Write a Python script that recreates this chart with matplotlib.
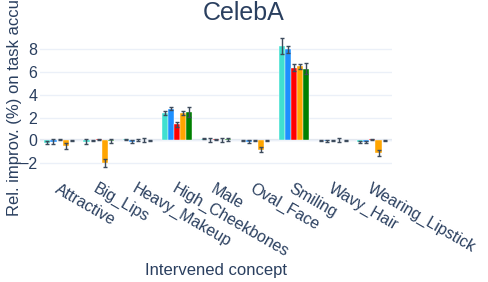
import numpy as np
import matplotlib
matplotlib.use("Agg")
import matplotlib.pyplot as plt

concepts = ["Attractive", "Big_Lips", "Heavy_Makeup", "High_Cheekbones", "Male",
            "Oval_Face", "Smiling", "Wavy_Hair", "Wearing_Lipstick"]

# one list per method (bar colour), values in % relative improvement
turquoise_vals = [-0.2, -0.1, 0.1, 2.4, 0.15, 0.0, 8.3, 0.0, -0.15]
blue_vals = [-0.1, 0.0, -0.1, 2.8, 0.05, -0.1, 8.0, -0.05, -0.15]
red_vals = [0.05, 0.1, 0.05, 1.4, 0.1, 0.0, 6.4, 0.0, 0.1]
orange_vals = [-0.5, -2.0, 0.05, 2.4, 0.05, -0.8, 6.5, 0.05, -1.1]
green_vals = [0.0, -0.05, 0.0, 2.5, 0.1, 0.0, 6.3, 0.0, 0.0]

turquoise_err = [0.15, 0.2, 0.05, 0.2, 0.05, 0.05, 0.7, 0.05, 0.1]
blue_err = [0.2, 0.05, 0.1, 0.1, 0.15, 0.1, 0.3, 0.05, 0.1]
red_err = [0.05, 0.05, 0.1, 0.25, 0.05, 0.05, 0.3, 0.05, 0.05]
orange_err = [0.25, 0.35, 0.15, 0.2, 0.2, 0.25, 0.2, 0.15, 0.25]
green_err = [0.05, 0.15, 0.05, 0.45, 0.15, 0.05, 0.5, 0.05, 0.05]

series = [
    (turquoise_vals, turquoise_err, "#40E0D0"),
    (blue_vals, blue_err, "#1E90FF"),
    (red_vals, red_err, "#FF0000"),
    (orange_vals, orange_err, "#FFA500"),
    (green_vals, green_err, "#008000"),
]

plt.rcParams['font.family'] = ['Liberation Sans', 'DejaVu Sans']
text_col = "#2a3f5f"
grid_col = "#ebf0f8"

fig = plt.figure(figsize=(4.88, 2.82), dpi=100)
ax = fig.add_axes([40 / 488, 1 - 170 / 282, 352 / 488, 140 / 282])

x = np.arange(len(concepts))
group = 0.78
w = group / len(series)
for i, (vals, err, col) in enumerate(series):
    pos = x - group / 2 + w * (i + 0.5)
    ax.bar(pos, vals, width=w, color=col, edgecolor="white", linewidth=0.3,
           yerr=err, error_kw=dict(ecolor="#3d4b5c", elinewidth=1.0, capsize=1.6,
                                   capthick=1.0), zorder=3)

ax.set_xlim(-0.5, len(concepts) - 0.5)
ax.set_ylim(-2.6, 9.7)
ax.set_yticks([-2, 0, 2, 4, 6, 8])
ax.set_yticklabels(["\u22122", "0", "2", "4", "6", "8"])
ax.yaxis.grid(True, color=grid_col, lw=1, zorder=0)
ax.axhline(0, color="#e2e7ef", lw=1.6, zorder=1)
for s in ax.spines.values():
    s.set_visible(False)
ax.tick_params(length=0, colors=text_col, labelsize=11.5)
ax.tick_params(axis="y", pad=2)
ax.set_xticks(x)
ax.set_xticklabels(concepts, rotation=-30, ha="left", va="top", rotation_mode="anchor")
ax.tick_params(axis="x", pad=8)

# title is centred on the whole figure
fig.text(0.5, 1 - 20 / 282, "CelebA", color=text_col, fontsize=18,
         ha="center", va="baseline")
ax.set_xlabel("Intervened concept", color=text_col, fontsize=12, labelpad=0)
ax.xaxis.set_label_coords(0.5, -0.665)
ax.set_ylabel("Rel. improv. (%) on task accuracy", color=text_col, fontsize=12)
ax.yaxis.set_label_coords(-0.052, 0.557)

fig.savefig("out.png", dpi=100)
